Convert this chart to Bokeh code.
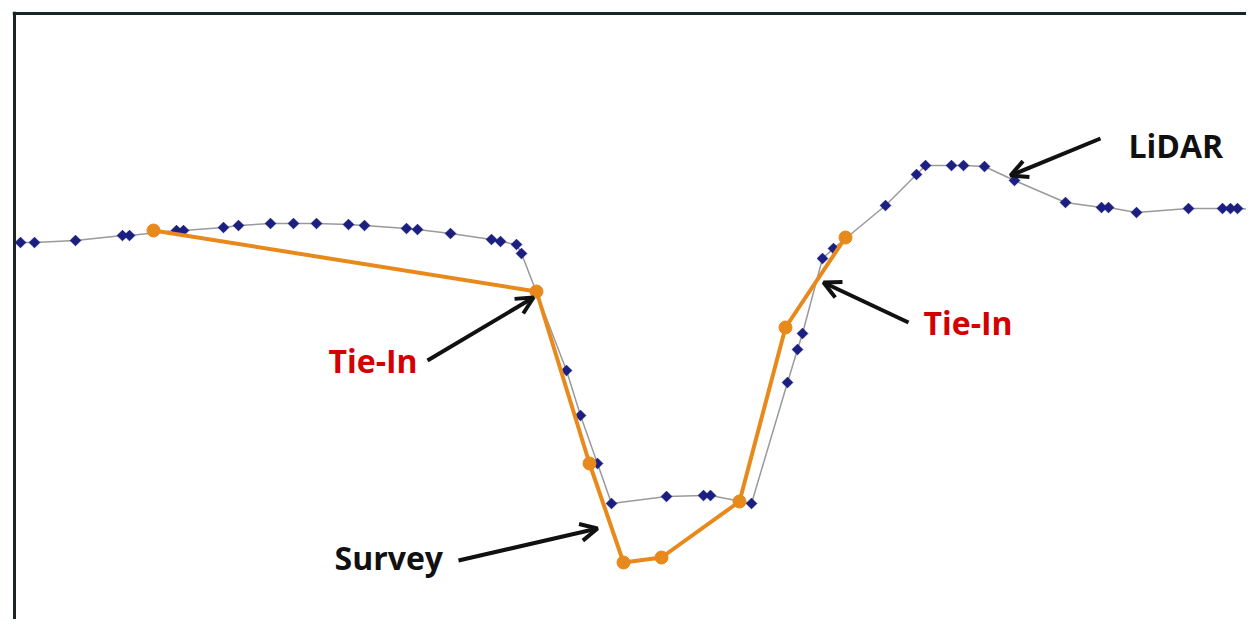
import math
from bokeh.plotting import figure
from bokeh.models import Range1d, Span, Label, Arrow, OpenHead
from bokeh.embed import file_html
from bokeh.resources import INLINE

# LiDAR profile (distance, elevation)
lidar_dist = [20, 34, 75, 122, 129, 176, 183, 223, 238, 270, 293, 316, 348, 364,
              406, 417, 450, 491, 500, 516, 521, 566, 580, 597, 611, 666, 703, 710,
              751, 787, 797, 802, 822, 833, 885, 916, 925, 951, 963, 984, 1014,
              1065, 1101, 1108, 1136, 1188, 1222, 1230, 1237, 1254]
lidar_elev = [385, 385, 387, 392, 392, 397, 397, 400, 402, 404, 404, 404, 403, 402,
              399, 398, 394, 388, 386, 383, 374, 257, 212, 164, 124, 131, 132, 132,
              124, 245, 278, 294, 369, 379, 422, 453, 462, 462, 462, 461, 447,
              425, 420, 420, 415, 419, 419, 419, 419, 418]
lidar_marked = 49  # last entry only continues the line to the edge

# Survey profile
survey_dist = [153, 536, 589, 623, 661, 739, 785, 845]
survey_elev = [397, 336, 164, 65, 70, 126, 300, 390]

# Annotation texts
labels = ["LiDAR", "Tie-In", "Tie-In", "Survey"]
label_colors = ["#111111", "#d40000", "#d40000", "#111111"]
label_x = [1128, 328, 923, 334]
label_y = [482, 267, 305, 70]
arrows_start_x = [1100, 427, 908, 458]
arrows_start_y = [489, 267, 305, 67]
arrows_end_x = [1010, 533, 823, 597]
arrows_end_y = [452, 330, 345, 99]

W, H = 1246, 619
p = figure(width=W, height=H, output_backend="svg", toolbar_location=None,
           x_axis_location=None, y_axis_location=None,
           x_range=Range1d(12, W), y_range=Range1d(627 - H, 616),
           min_border_left=12, min_border_top=11, min_border_right=0, min_border_bottom=0)
p.grid.visible = False
p.outline_line_color = None
p.background_fill_color = "white"
p.border_fill_color = "white"

# frame lines (top and left)
p.add_layout(Span(location=614, dimension="width", line_color="#1a2626", line_width=3))
p.add_layout(Span(location=14, dimension="height", line_color="#1a2626", line_width=3))

p.line(lidar_dist, lidar_elev, line_color="#9a9a9a", line_width=1.5)
p.scatter(lidar_dist[:lidar_marked], lidar_elev[:lidar_marked], marker="square",
          size=7.5, angle=math.pi / 4, fill_color="#1b1f80", line_color="#1b1f80")

p.line(survey_dist, survey_elev, line_color="#e8891c", line_width=4)
p.scatter(survey_dist, survey_elev, marker="circle", size=13,
          fill_color="#e8891c", line_color="#e8891c")

for t, c, x, y in zip(labels, label_colors, label_x, label_y):
    p.add_layout(Label(x=x, y=y, text=t, text_color=c, text_font="Open Sans",
                       text_font_style="bold", text_font_size="32px",
                       text_baseline="alphabetic"))

for xs, ys, xe, ye in zip(arrows_start_x, arrows_start_y, arrows_end_x, arrows_end_y):
    p.add_layout(Arrow(x_start=xs, y_start=ys, x_end=xe, y_end=ye,
                       line_color="#111111", line_width=4,
                       end=OpenHead(size=17, line_width=4, line_color="#111111")))

open("out.html", "w").write(file_html(p, INLINE))
